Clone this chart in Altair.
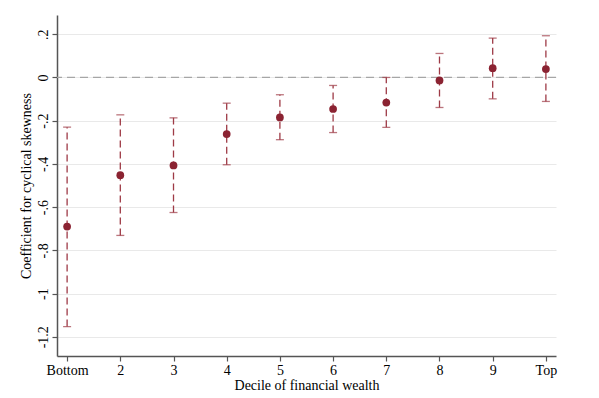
import altair as alt
import pandas as pd

deciles = [1, 2, 3, 4, 5, 6, 7, 8, 9, 10]
decile_labels = ["Bottom", "2", "3", "4", "5", "6", "7", "8", "9", "Top"]
coef = [-0.690, -0.452, -0.407, -0.262, -0.185, -0.146, -0.116, -0.014, 0.043, 0.039]
ci_low = [-1.153, -0.731, -0.625, -0.404, -0.288, -0.255, -0.231, -0.139, -0.099, -0.111]
ci_high = [-0.230, -0.173, -0.187, -0.119, -0.080, -0.037, 0.000, 0.111, 0.182, 0.193]

y_ticks = [0.2, 0, -0.2, -0.4, -0.6, -0.8, -1.0, -1.2]
y_tick_labels = [".2", "0", "-.2", "-.4", "-.6", "-.8", "-1", "-1.2"]

df = pd.DataFrame({"x": deciles, "coef": coef, "lo": ci_low, "hi": ci_high})
zero_df = pd.DataFrame({"y": [0]})

FONT = "Liberation Serif"
RED = "#8b2332"
BAR = "#9e3a46"

# label expressions
xexpr = "".join(
    f"datum.value == {v} ? '{l}' : " for v, l in zip(deciles, decile_labels)
) + "''"
yexpr = "".join(
    f"abs(datum.value - ({v})) < 0.01 ? '{l}' : " for v, l in zip(y_ticks, y_tick_labels)
) + "''"

xscale = alt.Scale(domain=[0.81, 10.19], nice=False, zero=False)
yscale = alt.Scale(domain=[-1.289, 0.289], nice=False, zero=False)

xaxis = alt.Axis(
    values=deciles, labelExpr=xexpr, title="Decile of financial wealth",
    grid=False, tickSize=5, labelPadding=2, titlePadding=1,
)
yaxis = alt.Axis(
    values=y_ticks, labelExpr=yexpr, title="Coefficient for cyclical skewness",
    grid=True, gridColor="#e9e9e9", gridWidth=1, tickSize=5, labelAngle=270,
    labelAlign="center", labelBaseline="alphabetic", labelPadding=5, titlePadding=3,
)

base = alt.Chart(df)

grid_layer = base.mark_point(opacity=0).encode(
    x=alt.X("x:Q", scale=xscale, axis=xaxis),
    y=alt.Y("coef:Q", scale=yscale, axis=yaxis),
)

zero = alt.Chart(zero_df).mark_rule(
    color="#a6a6a6", strokeDash=[8, 5], strokeWidth=1.2
).encode(y=alt.Y("y:Q", scale=yscale))

bars = base.mark_rule(color=BAR, strokeDash=[7, 4], strokeWidth=1.3).encode(
    x=alt.X("x:Q", scale=xscale),
    y=alt.Y("lo:Q", scale=yscale),
    y2="hi:Q",
)

cap_lo = base.mark_tick(color=BAR, orient="horizontal", size=8, thickness=1.3).encode(
    x=alt.X("x:Q", scale=xscale), y=alt.Y("lo:Q", scale=yscale)
)
cap_hi = base.mark_tick(color=BAR, orient="horizontal", size=8, thickness=1.3).encode(
    x=alt.X("x:Q", scale=xscale), y=alt.Y("hi:Q", scale=yscale)
)

points = base.mark_circle(color=RED, size=60, opacity=1).encode(
    x=alt.X("x:Q", scale=xscale), y=alt.Y("coef:Q", scale=yscale)
)

chart = (
    alt.layer(grid_layer, zero, bars, cap_lo, cap_hi, points)
    .properties(
        width=499, height=341,
        autosize=alt.AutoSizeParams(type="none"),
        padding={"left": 49, "top": 7, "right": 35, "bottom": 40},
        background="white",
    )
    .configure_view(stroke=None)
    .configure_axis(
        labelFont=FONT, titleFont=FONT, labelFontSize=14, titleFontSize=14,
        labelColor="black", titleColor="black", titleFontWeight="normal",
        domainColor="#555555", domainWidth=1.5, tickColor="#555555", tickWidth=1.2,
    )
)

chart.save("out.html", embed_options={"renderer": "svg", "actions": False})
